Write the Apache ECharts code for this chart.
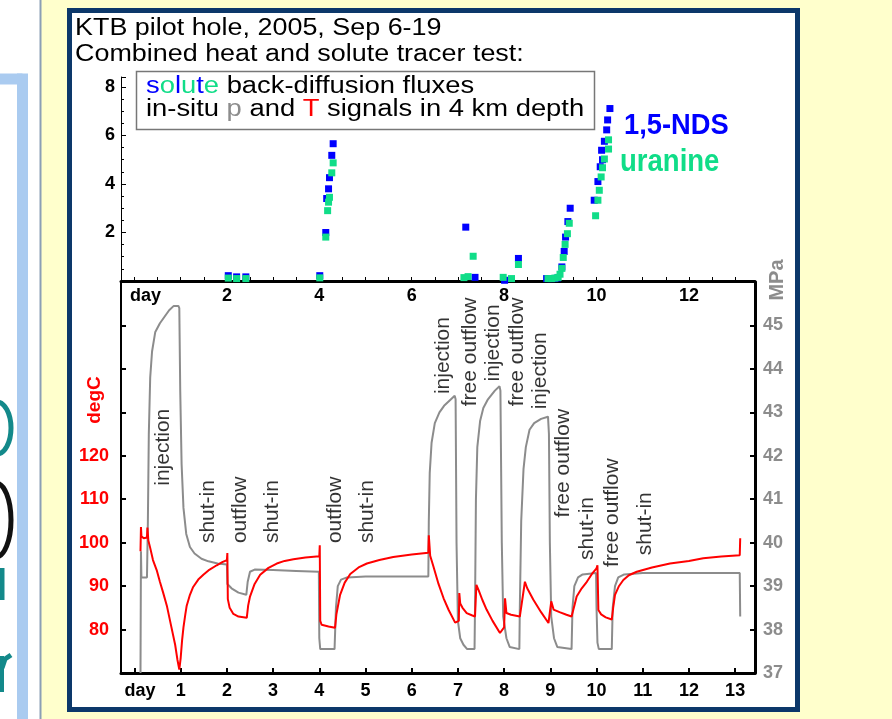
<!DOCTYPE html>
<html>
<head>
<meta charset="utf-8">
<title>KTB pilot hole tracer test</title>
<script src="https://cdn.jsdelivr.net/npm/echarts@6/dist/echarts.min.js"></script>
<style>
  html, body { margin: 0; padding: 0; background: #ffffcc; }
  #main { width: 892px; height: 719px; }
</style>
</head>
<body>
<div id="main"></div>
<script>
// x range in days (left edge of plot is a bit before day 0)
var X_MIN = -0.292, X_MAX = 13.43;
var dayTicks = [0, 1, 2, 3, 4, 5, 6, 7, 8, 9, 10, 11, 12, 13];
var halfDayTicks = [0, 0.5, 1, 1.5, 2, 2.5, 3, 3.5, 4, 4.5, 5, 5.5, 6, 6.5, 7, 7.5, 8, 8.5, 9, 9.5, 10, 10.5, 11, 11.5, 12, 12.5, 13];
var topDayLabels = [0, 2, 4, 6, 8, 10, 12];
var degCLabels = [80, 90, 100, 110, 120];
var mpaLabels = [37, 38, 39, 40, 41, 42, 43, 44, 45];

// solute back-diffusion fluxes [day, value]
var nds = [[2.03,0.22],[2.21,0.17],[2.41,0.17],[4.01,0.22],[4.14,2.0],[4.16,3.4],[4.2,3.8],[4.22,4.26],[4.27,5.18],[4.3,5.66],
  [7.17,2.22],[7.37,0.15],[8.01,0.03],[8.31,0.93],[8.92,0.1],[9.0,0.1],[9.08,0.1],[9.15,0.12],[9.25,0.58],[9.3,1.22],
  [9.33,1.81],[9.38,2.45],[9.43,3.0],[9.95,3.33],[10.03,4.1],[10.08,4.71],[10.13,5.0],[10.11,5.39],[10.17,5.76],
  [10.22,6.23],[10.24,6.64],[10.29,7.11]];
var uranine = [[2.03,0.12],[2.21,0.1],[2.41,0.1],[4.01,0.13],[4.14,1.81],[4.18,2.9],[4.2,3.25],[4.22,3.45],[4.27,4.46],[4.3,4.87],
  [7.13,0.14],[7.22,0.18],[7.33,1.02],[7.98,0.15],[8.16,0.1],[8.31,0.68],[8.95,0.1],[9.03,0.1],[9.1,0.12],[9.17,0.15],
  [9.21,0.28],[9.25,0.52],[9.28,0.97],[9.32,1.51],[9.37,1.95],[9.41,2.38],[9.98,2.69],[10.03,3.33],[10.06,3.74],
  [10.1,4.29],[10.13,4.67],[10.17,5.03],[10.26,5.44],[10.26,5.82]];

// in-situ pressure [day, MPa]
var pressure = [[0.13,37.0],[0.14,39.8],[0.15,39.2],[0.27,39.2],[0.29,40.5],[0.31,42.5],[0.34,43.8],[0.38,44.4],[0.45,44.85],
  [0.55,45.05],[0.65,45.2],[0.75,45.35],[0.85,45.45],[0.95,45.45],[0.97,45.4],[0.99,43.5],[1.02,41.8],[1.06,40.8],
  [1.12,40.2],[1.2,39.9],[1.3,39.75],[1.45,39.63],[1.6,39.57],[1.8,39.52],[2.0,39.5],[2.01,39.05],[2.1,38.95],
  [2.25,38.85],[2.42,38.8],[2.45,39.1],[2.5,39.33],[2.6,39.38],[3.0,39.37],[3.5,39.35],[3.99,39.33],[4.0,37.8],
  [4.02,37.55],[4.33,37.55],[4.36,38.5],[4.4,39.0],[4.47,39.15],[4.6,39.2],[5.0,39.22],[6.0,39.22],[6.36,39.22],
  [6.37,40.5],[6.39,41.6],[6.43,42.3],[6.5,42.75],[6.6,43.0],[6.7,43.15],[6.85,43.3],[6.93,43.38],[6.95,43.3],
  [6.97,40.0],[7.0,38.2],[7.05,37.8],[7.12,37.65],[7.2,37.55],[7.36,37.55],[7.37,38.5],[7.39,41.0],[7.42,42.2],
  [7.48,42.8],[7.55,43.1],[7.65,43.3],[7.8,43.5],[7.9,43.6],[7.92,43.5],[7.95,40.0],[7.98,38.3],[8.05,37.8],
  [8.12,37.6],[8.33,37.55],[8.34,38.5],[8.37,40.5],[8.42,41.7],[8.47,42.2],[8.55,42.6],[8.65,42.75],[8.8,42.85],
  [8.95,42.9],[8.97,42.5],[8.99,40.0],[9.02,38.3],[9.08,37.8],[9.15,37.6],[9.46,37.55],[9.48,38.5],[9.52,39.0],
  [9.6,39.2],[9.7,39.27],[9.99,39.3],[10.0,38.5],[10.02,37.7],[10.05,37.55],[10.33,37.55],[10.35,38.5],[10.4,39.0],
  [10.47,39.2],[10.6,39.27],[11.0,39.3],[12.0,39.3],[13.1,39.3],[13.11,38.3]];

// in-situ temperature [day, degC]
var temperature = [[0.13,98.0],[0.14,103.6],[0.15,101.5],[0.2,101.0],[0.27,101.2],[0.28,103.5],[0.3,100.5],[0.34,98.8],
  [0.4,96.0],[0.48,93.7],[0.55,91.0],[0.62,88.5],[0.7,85.5],[0.8,80.5],[0.88,76.5],[0.93,73.0],[0.97,70.8],[1.0,73.5],
  [1.03,77.5],[1.06,80.5],[1.1,83.5],[1.13,85.5],[1.2,88.0],[1.27,89.8],[1.38,91.5],[1.49,92.6],[1.6,93.6],[1.78,94.8],
  [1.9,95.5],[2.0,96.0],[2.01,97.6],[2.02,87.0],[2.06,85.0],[2.14,83.6],[2.25,83.0],[2.43,82.7],[2.46,85.5],[2.5,87.6],
  [2.6,90.5],[2.72,92.6],[2.9,94.2],[3.08,95.2],[3.25,95.8],[3.44,96.2],[3.7,96.6],[4.0,96.9],[4.01,99.4],[4.02,82.0],
  [4.05,81.1],[4.2,80.7],[4.34,80.4],[4.37,83.5],[4.45,88.0],[4.55,90.8],[4.67,92.8],[4.85,94.3],[5.03,95.2],[5.3,96.0],
  [5.6,96.7],[6.0,97.3],[6.36,97.7],[6.37,101.7],[6.4,97.0],[6.47,94.5],[6.58,90.5],[6.69,87.2],[6.8,84.5],[6.94,81.6],
  [7.02,82.0],[7.03,88.4],[7.05,86.0],[7.1,85.0],[7.19,83.8],[7.3,83.3],[7.37,83.0],[7.4,90.3],[7.45,89.0],[7.53,86.8],
  [7.62,84.6],[7.75,82.0],[7.91,79.2],[8.0,80.5],[8.02,87.2],[8.05,83.8],[8.15,83.4],[8.34,83.0],[8.45,91.0],[8.5,89.5],
  [8.63,86.9],[8.8,84.0],[8.96,81.5],[9.02,86.5],[9.07,84.6],[9.2,84.0],[9.35,83.4],[9.46,83.0],[9.52,85.5],[9.57,87.6],
  [9.68,89.5],[9.79,91.0],[9.9,92.8],[10.0,94.1],[10.02,94.8],[10.04,84.5],[10.1,83.5],[10.2,82.8],[10.33,82.3],
  [10.36,85.0],[10.4,88.0],[10.48,89.9],[10.58,91.4],[10.7,92.5],[10.87,93.3],[11.2,94.3],[11.59,95.2],[12.0,95.8],
  [12.31,96.4],[12.7,96.8],[13.1,97.1],[13.11,101.0]];

// phase labels: [day, degC at start of text, text]
var phases = [[0.62,113.1,'injection'],[1.59,99.9,'shut-in'],[2.28,99.9,'outflow'],[2.98,99.9,'shut-in'],
  [4.34,99.9,'outflow'],[5.03,99.9,'shut-in'],[6.68,134.2,'injection'],[7.26,131.4,'free outflow'],
  [7.76,137.1,'injection'],[8.28,131.4,'free outflow'],[8.78,130.7,'injection'],[9.28,105.8,'free outflow'],
  [9.8,96.0,'shut-in'],[10.34,94.4,'free outflow'],[11.05,97.1,'shut-in']];

var FONT = '"Liberation Sans", Arial, sans-serif';
var chart = echarts.init(document.getElementById('main'));

function labelOnly(list) {
  return function (v) { return list.indexOf(v) >= 0 ? String(v) : ''; };
}

var option = {
  backgroundColor: '#ffffcc',
  animation: false,
  textStyle: { fontFamily: FONT },
  grid: [
    { left: 121, right: 137, top: 77, height: 204 },
    { left: 121, right: 137, top: 282, height: 391 }
  ],
  xAxis: [
    {
      gridIndex: 0, type: 'value', min: X_MIN, max: X_MAX, position: 'bottom',
      axisLine: { onZero: false, lineStyle: { color: '#000', width: 3 } },
      axisTick: { inside: true, length: 4, customValues: halfDayTicks, lineStyle: { color: '#000', width: 1 } },
      axisLabel: {
        customValues: topDayLabels, margin: 6, fontSize: 18, fontWeight: 'bold', color: '#000',
        formatter: function (v) { return v === 0 ? '{d|day}' : String(v); },
        rich: { d: { fontSize: 18, fontWeight: 'bold', color: '#000', fontFamily: FONT, padding: [0, 0, 0, 22] } }
      },
      splitLine: { show: false }
    },
    {
      gridIndex: 1, type: 'value', min: X_MIN, max: X_MAX, position: 'bottom',
      axisLine: { onZero: false, lineStyle: { color: '#000', width: 3 } },
      axisTick: { inside: true, length: 5, customValues: dayTicks, lineStyle: { color: '#000', width: 2 } },
      axisLabel: {
        customValues: dayTicks, margin: 9, fontSize: 18, fontWeight: 'bold', color: '#000',
        formatter: function (v) { return v === 0 ? '{d|day}' : String(v); },
        rich: { d: { fontSize: 18, fontWeight: 'bold', color: '#000', fontFamily: FONT, padding: [0, 0, 0, 11] } }
      },
      splitLine: { show: false }
    }
  ],
  yAxis: [
    {
      gridIndex: 0, type: 'value', min: 0, max: 8.41, interval: 2,
      axisLine: { show: true, onZero: false, lineStyle: { color: '#000', width: 1 } },
      axisTick: { show: true, inside: true, length: 5, lineStyle: { color: '#000' } },
      minorTick: { show: true, splitNumber: 4, length: 3, lineStyle: { color: '#000' } },
      axisLabel: {
        margin: 6, fontSize: 18, fontWeight: 'bold', color: '#000',
        formatter: labelOnly([2, 4, 6, 8])
      },
      splitLine: { show: false }
    },
    {
      gridIndex: 1, type: 'value', min: 70, max: 160, interval: 10,
      axisLine: { show: true, onZero: false, lineStyle: { color: '#000', width: 2 } },
      axisTick: { show: true, inside: true, length: 5, lineStyle: { color: '#000', width: 2 } },
      axisLabel: { margin: 12, fontSize: 18, fontWeight: 'bold', color: '#ff0000', formatter: labelOnly(degCLabels) },
      splitLine: { show: false }
    },
    {
      gridIndex: 1, type: 'value', min: 37, max: 46, interval: 1, position: 'right',
      axisLine: { show: true, onZero: false, lineStyle: { color: '#000', width: 3 } },
      axisTick: { show: true, inside: true, length: 5, lineStyle: { color: '#000', width: 2 } },
      axisLabel: { margin: 8, fontSize: 18, fontWeight: 'bold', color: '#8c8c8c', formatter: labelOnly(mpaLabels) },
      splitLine: { show: false }
    }
  ],
  series: [
    {
      name: '1,5-NDS', type: 'scatter', xAxisIndex: 0, yAxisIndex: 0,
      symbol: 'rect', symbolSize: 7, itemStyle: { color: '#0000ff', opacity: 1 }, data: nds, z: 3
    },
    {
      name: 'uranine', type: 'scatter', xAxisIndex: 0, yAxisIndex: 0,
      symbol: 'rect', symbolSize: 7, itemStyle: { color: '#10dd88', opacity: 1 }, data: uranine, z: 4
    },
    {
      name: 'p', type: 'line', xAxisIndex: 1, yAxisIndex: 2, data: pressure,
      symbol: 'none', lineStyle: { color: '#8c8c8c', width: 2 }, z: 3
    },
    {
      name: 'T', type: 'line', xAxisIndex: 1, yAxisIndex: 1, data: temperature,
      symbol: 'none', lineStyle: { color: '#ff0000', width: 2 }, z: 4
    },
    {
      name: 'phases', type: 'scatter', xAxisIndex: 1, yAxisIndex: 1, symbolSize: 0, silent: true, z: 5,
      data: phases.map(function (p) { return { value: [p[0], p[1]], name: p[2] }; }),
      label: {
        show: true, position: 'inside', formatter: '{b}', rotate: 90, align: 'left', verticalAlign: 'middle',
        fontSize: 21, color: '#000', fontFamily: FONT
      }
    }
  ],
  graphic: [
    // left page strip
    { type: 'rect', z: -20, shape: { x: 0, y: 0, width: 40, height: 719 }, style: { fill: '#ffffff' } },
    { type: 'line', z: -19, shape: { x1: 0, y1: 79, x2: 22.5, y2: 79 }, style: { stroke: '#aacbf0', lineWidth: 11 } },
    { type: 'line', z: -19, shape: { x1: 22.5, y1: 73.5, x2: 22.5, y2: 719 }, style: { stroke: '#aacbf0', lineWidth: 11 } },
    { type: 'line', z: -19, shape: { x1: 40.5, y1: 0, x2: 40.5, y2: 719 }, style: { stroke: '#8b9fb5', lineWidth: 2 } },
    { type: 'ellipse', z: -18, shape: { cx: -3, cy: 428, rx: 14, ry: 26 }, style: { fill: 'none', stroke: '#13898a', lineWidth: 5 } },
    { type: 'ellipse', z: -18, shape: { cx: -4, cy: 520, rx: 15, ry: 37 }, style: { fill: 'none', stroke: '#111111', lineWidth: 5 } },
    { type: 'line', z: -18, shape: { x1: 2, y1: 568, x2: 2, y2: 600 }, style: { stroke: '#13898a', lineWidth: 5 } },
    { type: 'line', z: -18, shape: { x1: 1.5, y1: 656, x2: 1.5, y2: 692 }, style: { stroke: '#13898a', lineWidth: 5 } },
    { type: 'polyline', z: -18, shape: { points: [[2, 668], [5, 659], [11, 655]] }, style: { fill: 'none', stroke: '#13898a', lineWidth: 5 } },
    // main frame
    { type: 'rect', z: -10, shape: { x: 69.5, y: 10.5, width: 728, height: 699 }, style: { fill: '#ffffff', stroke: '#0c386a', lineWidth: 5 } },
    // title
    {
      type: 'text', z: 10, x: 75, y: 15, scaleX: 1.17,
      style: { text: 'KTB pilot hole, 2005, Sep 6-19\nCombined heat and solute tracer test:', fontSize: 23, fontFamily: FONT, lineHeight: 26.5, fill: '#000', align: 'left', verticalAlign: 'top' }
    },
    // legend box
    { type: 'rect', z: 10, shape: { x: 136.5, y: 71.5, width: 458, height: 58 }, style: { fill: '#ffffff', stroke: '#777777', lineWidth: 1.5 } },
    {
      type: 'text', z: 11, x: 146, y: 74.5, scaleX: 1.19,
      style: {
        text: '{b|s}{g|o}{b|l}{g|u}{b|t}{g|e}{k| back-diffusion fluxes}\n{k|in-situ }{p|p}{k| and }{r|T}{k| signals in 4 km depth}',
        fontSize: 23, fontFamily: FONT, lineHeight: 23.5, fill: '#000', align: 'left', verticalAlign: 'top',
        rich: {
          k: { fontSize: 23, fontFamily: FONT, lineHeight: 23.5, fill: '#000' },
          b: { fontSize: 23, fontFamily: FONT, lineHeight: 23.5, fill: '#0000ff' },
          g: { fontSize: 23, fontFamily: FONT, lineHeight: 23.5, fill: '#10dd88' },
          p: { fontSize: 23, fontFamily: FONT, lineHeight: 23.5, fill: '#8c8c8c' },
          r: { fontSize: 23, fontFamily: FONT, lineHeight: 23.5, fill: '#ff0000' }
        }
      }
    },
    { type: 'text', z: 10, x: 624, y: 126, scaleX: 0.91, style: { text: '1,5-NDS', fontSize: 30, fontWeight: 'bold', fontFamily: FONT, fill: '#0000ff', align: 'left', verticalAlign: 'middle' } },
    { type: 'text', z: 10, x: 620, y: 162, scaleX: 0.86, style: { text: 'uranine', fontSize: 32, fontWeight: 'bold', fontFamily: FONT, fill: '#10dd88', align: 'left', verticalAlign: 'middle' } },
    // axis names
    { type: 'text', z: 10, x: 95, y: 400, rotation: Math.PI / 2, style: { text: 'degC', fontSize: 19, fontWeight: 'bold', fontFamily: FONT, fill: '#ff0000', align: 'center', verticalAlign: 'middle' } },
    { type: 'text', z: 10, x: 777, y: 280, rotation: Math.PI / 2, style: { text: 'MPa', fontSize: 20, fontWeight: 'bold', fontFamily: FONT, fill: '#8c8c8c', align: 'center', verticalAlign: 'middle' } }
  ]
};

chart.setOption(option);
</script>
</body>
</html>
